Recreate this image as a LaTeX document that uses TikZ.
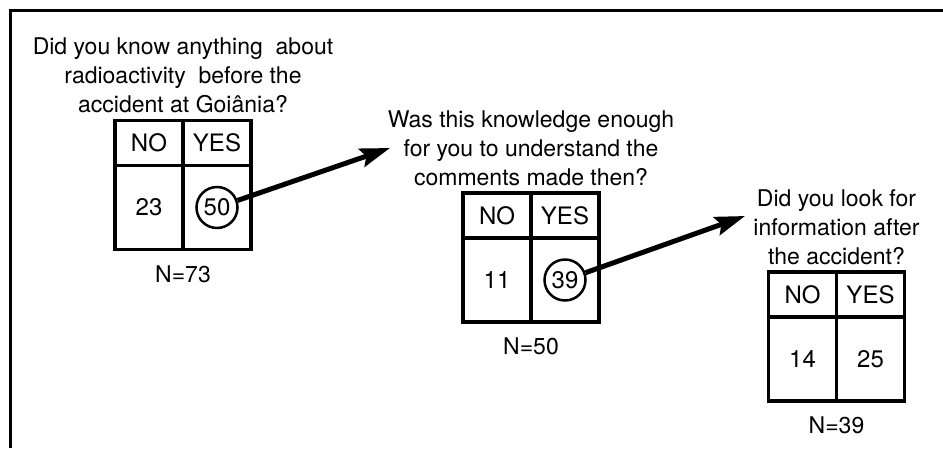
\documentclass[tikz,border=0pt]{standalone}
\usepackage{fontspec}
\setmainfont{TeX Gyre Heros}
\usetikzlibrary{arrows.meta,matrix,positioning}

\tikzset{
  tbl/.style={matrix of nodes, nodes in empty cells, column sep=-3.5pt, row sep=-3.5pt,
    nodes={draw, anchor=center, line width=3.5pt, outer sep=0pt, inner sep=0pt,
      minimum width=68pt, minimum height=45pt, font=\fontsize{24}{28}\selectfont},
    row 2/.style={nodes={minimum height=84pt}}},
  quest/.style={align=center, inner sep=1pt},
  ring/.style={circle, draw, line width=2.5pt, minimum size=41pt, inner sep=0pt,
    font=\fontsize{24}{28}\selectfont},
  pointer/.style={line width=5pt, -{Stealth[length=30pt,width=19pt,inset=5pt]}}
}

\begin{document}
\begin{tikzpicture}[x=1pt,y=-1pt,font=\fontsize{23}{29}\selectfont]
  \useasboundingbox (0,0) rectangle (943,448);
  \draw[line width=3pt] (10,448) -- (10,10) -- (943,10);

  % first question
  \matrix[tbl] (t1) at (183,185) {
    NO & YES \\
    23 & \\
  };
  \node[ring] (c50) at (t1-2-2) {50};
  \node[quest, above=1pt of t1] (q1)
    {Did you know anything\ \ about\\radioactivity\ \ before the\\accident at Goiânia?};
  \node[below=7pt of t1] (n1) {N=73};

  % second question
  \matrix[tbl] (t2) at (531,257.5) {
    NO & YES \\
    11 & \\
  };
  \node[ring] (c39) at (t2-2-2) {39};
  \node[quest, above=1pt of t2] (q2)
    {Was this knowledge enough\\for you to understand the\\comments made then?};
  \node[below=7pt of t2] (n2) {N=50};

  % third question
  \matrix[tbl] (t3) at (836.5,336.5) {
    NO & YES \\
    14 & 25 \\
  };
  \node[quest, above=1pt of t3] (q3)
    {Did you look for\\information after\\the accident?};
  \node[below=7pt of t3] (n3) {N=39};

  \coordinate (tip1) at (390,148);
  \coordinate (tip2) at (745,216);
  \draw[pointer] (c50) -- (tip1);
  \draw[pointer] (c39) -- (tip2);
\end{tikzpicture}
\end{document}
